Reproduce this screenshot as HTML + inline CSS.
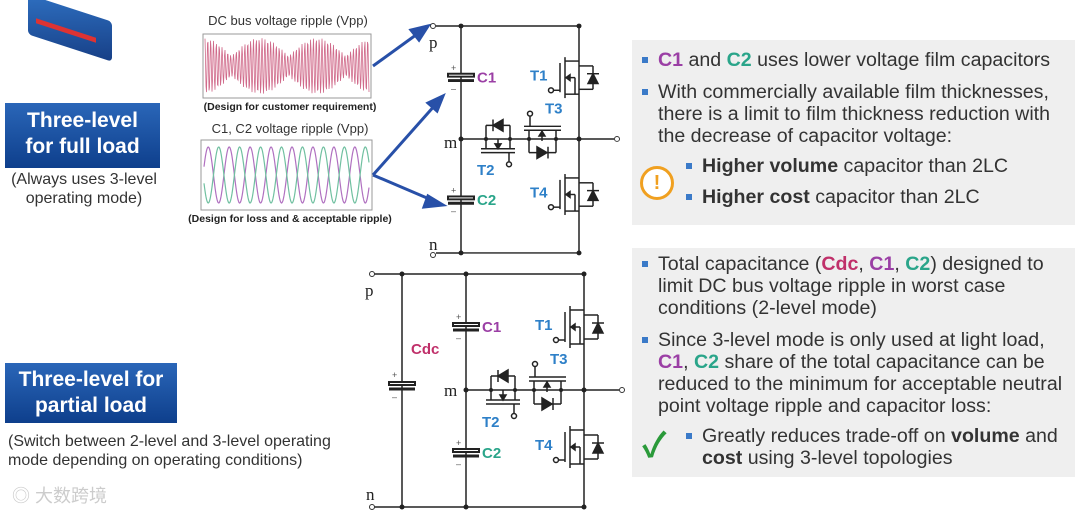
<!DOCTYPE html>
<html><head><meta charset="utf-8"><style>
body{margin:0;width:1080px;height:513px;overflow:hidden;background:#fff;font-family:"Liberation Sans","Noto Sans CJK SC",sans-serif;position:relative}
.a{position:absolute}
.blue{background:linear-gradient(180deg,#2a66b8,#0e3f8c);color:#fff;font-weight:bold;font-size:21px;text-align:center;line-height:26px}
.panel{background:#efefef;position:absolute;left:632px;width:443px}
.panel ul{margin:0;padding:0 6px 0 0;list-style:none}
.panel li{position:relative;padding-left:26px;font-size:19.6px;color:#333;line-height:22px}
.panel li:before{content:"";position:absolute;left:10px;top:8px;width:6px;height:6px;background:#3a7ac8}
.sub li{padding-left:70px}.sub li:before{left:54px}
.m{color:#9b3fa5;font-weight:bold}.g{color:#2aa58a;font-weight:bold}.r{color:#c0306a;font-weight:bold}
</style></head><body>
<div class="a" style="left:28px;top:8px;width:84px;height:40px;background:linear-gradient(160deg,#2e6fc0,#173f86);transform:skewY(18deg);border-radius:4px"></div>
<div class="a" style="left:36px;top:28px;width:60px;height:5px;background:#d33;transform:skewY(18deg)"></div>
<div class="a blue" style="left:5px;top:103px;width:155px;height:60px;padding-top:5px">Three-level<br>for full load</div>
<div class="a" style="left:4px;top:170px;width:160px;text-align:center;font-size:16px;color:#333;line-height:19px">(Always uses 3-level<br>operating mode)</div>
<div class="a blue" style="left:5px;top:363px;width:172px;height:56px;padding-top:4px">Three-level for<br>partial load</div>
<div class="a" style="left:8px;top:432px;font-size:16px;color:#333;line-height:19px">(Switch between 2-level and 3-level operating<br>mode depending on operating conditions)</div>
<div class="a" style="left:12px;top:482px;font-size:18px;color:#ccc">◎ 大数跨境</div>

<div class="a" style="left:203px;top:13px;width:170px;text-align:center;font-size:13px;color:#333">DC bus voltage ripple (Vpp)</div>
<div class="a" style="left:190px;top:101px;width:200px;text-align:center;font-size:10.5px;font-weight:bold;color:#222">(Design for customer requirement)</div>
<div class="a" style="left:190px;top:121px;width:200px;text-align:center;font-size:13px;color:#333">C1, C2 voltage ripple (Vpp)</div>
<div class="a" style="left:165px;top:213px;width:250px;text-align:center;font-size:10.5px;font-weight:bold;color:#222">(Design for loss and &amp; acceptable ripple)</div>

<svg class="a" style="left:0;top:0" width="1080" height="513">
<rect x="203" y="34" width="168" height="64" fill="#fff" stroke="#999"/>
<rect x="201" y="140" width="171" height="70" fill="#fff" stroke="#999"/>
<path id="w1" fill="none" stroke="#d06a8a" stroke-width="0.8"/>
<path id="w2" fill="none" stroke="#b070c0" stroke-width="1.2"/>
<path id="w3" fill="none" stroke="#70c0a0" stroke-width="1.2"/>
<g stroke="#2850a8" stroke-width="3" fill="#2850a8">
<line x1="373" y1="66" x2="420" y2="32"/><polygon points="428,26 411,30 419,40"/>
<line x1="373" y1="175" x2="436" y2="104"/><polygon points="443,96 428,103 437,111"/>
<line x1="373" y1="175" x2="434" y2="201"/><polygon points="443,205 428,196 424,207"/>
</g>
<defs>
<g id="fet" stroke="#222" stroke-width="1.5" fill="none">
<line x1="0" y1="0" x2="-14" y2="0"/><line x1="0" y1="34" x2="-14" y2="34"/>
<line x1="-14" y1="-4" x2="-14" y2="38"/>
<line x1="-19" y1="2" x2="-19" y2="32"/>
<line x1="-14" y1="17" x2="-4" y2="17"/><line x1="-4" y1="17" x2="-4" y2="34"/>
<polygon points="-13,17 -9,14 -9,20" fill="#222"/>
<line x1="-19" y1="30" x2="-26" y2="30"/><circle cx="-28" cy="30" r="2.5" fill="#fff"/>
<line x1="0" y1="5" x2="14" y2="5"/><line x1="14" y1="5" x2="14" y2="29"/><line x1="14" y1="29" x2="0" y2="29"/>
<polygon points="9,23 19,23 14,13" fill="#222"/><line x1="8" y1="13" x2="20" y2="13"/>
</g>
<g id="cap" stroke="#222" stroke-width="2">
<rect x="-13" y="-3" width="26" height="3" fill="#fff"/><line x1="-13" y1="4" x2="13" y2="4" stroke-width="3"/>
</g>
<g id="circ">
<g stroke="#222" stroke-width="1.5" fill="none">
<line x1="466" y1="274" x2="584" y2="274"/><line x1="466" y1="507" x2="584" y2="507"/>
<line x1="466" y1="274" x2="466" y2="507"/><line x1="584" y1="274" x2="584" y2="507"/>
<line x1="466" y1="390" x2="619" y2="390"/>
</g>
<circle cx="622" cy="390" r="2.5" fill="#fff" stroke="#333"/>
<g fill="#222"><circle cx="466" cy="274" r="2.5"/><circle cx="466" cy="507" r="2.5"/><circle cx="466" cy="390" r="2.5"/><circle cx="584" cy="390" r="2.5"/><circle cx="584" cy="274" r="2.5"/><circle cx="584" cy="507" r="2.5"/></g>
<use href="#cap" x="466" y="326"/><use href="#cap" x="466" y="452"/>
<text x="456" y="320" font-size="9" fill="#555">+</text><text x="456" y="341" font-size="9" fill="#555">–</text>
<text x="456" y="446" font-size="9" fill="#555">+</text><text x="456" y="467" font-size="9" fill="#555">–</text>
<use href="#fet" x="584" y="310"/><use href="#fet" x="584" y="430"/>
<g stroke="#222" stroke-width="1.5" fill="none">
<line x1="491" y1="390" x2="491" y2="376"/><line x1="491" y1="376" x2="515" y2="376"/><line x1="515" y1="376" x2="515" y2="390"/>
<polygon points="498,376 508,370 508,382" fill="#222"/><line x1="498" y1="370" x2="498" y2="382"/>
<line x1="491" y1="390" x2="491" y2="400"/><line x1="515" y1="390" x2="515" y2="400"/>
<line x1="486" y1="400" x2="520" y2="400"/><line x1="486" y1="404" x2="520" y2="404"/>
<line x1="503" y1="390" x2="503" y2="400"/><polygon points="503,400 500,395 506,395" fill="#222"/>
<line x1="514" y1="404" x2="514" y2="413"/><circle cx="514" cy="416" r="2.5" fill="#fff"/>
<line x1="534" y1="390" x2="534" y2="381"/><line x1="561" y1="390" x2="561" y2="381"/>
<line x1="529" y1="381" x2="566" y2="381"/><line x1="529" y1="377" x2="566" y2="377"/>
<line x1="547" y1="381" x2="547" y2="392"/><polygon points="547,382 544,387 550,387" fill="#222"/>
<line x1="535" y1="377" x2="535" y2="367"/><circle cx="535" cy="364" r="2.5" fill="#fff"/>
<line x1="534" y1="390" x2="534" y2="404"/><line x1="534" y1="404" x2="561" y2="404"/><line x1="561" y1="404" x2="561" y2="390"/>
<polygon points="552,404 542,398 542,410" fill="#222"/><line x1="553" y1="398" x2="553" y2="410"/>
</g>
<g fill="#222"><circle cx="491" cy="390" r="2"/><circle cx="515" cy="390" r="2"/><circle cx="534" cy="390" r="2"/><circle cx="561" cy="390" r="2"/></g>
<g font-family="Liberation Sans" font-weight="bold" font-size="15">
<text x="482" y="332" fill="#9b3fa5">C1</text><text x="482" y="458" fill="#2aa58a">C2</text>
<text x="535" y="330" fill="#2e80c8">T1</text><text x="535" y="450" fill="#2e80c8">T4</text>
<text x="482" y="427" fill="#2e80c8">T2</text><text x="550" y="364" fill="#2e80c8">T3</text>
</g>
</g>
</defs>
<use href="#circ"/>
<g stroke="#222" stroke-width="1.5"><line x1="372" y1="274" x2="466" y2="274"/><line x1="372" y1="507" x2="466" y2="507"/><line x1="402" y1="274" x2="402" y2="507"/></g>
<circle cx="372" cy="274" r="2.5" fill="#fff" stroke="#333"/><circle cx="372" cy="507" r="2.5" fill="#fff" stroke="#333"/>
<g fill="#222"><circle cx="402" cy="274" r="2.5"/><circle cx="402" cy="507" r="2.5"/></g>
<use href="#cap" x="402" y="385"/>
<text x="392" y="378" font-size="9" fill="#555">+</text><text x="392" y="400" font-size="9" fill="#555">–</text>
<text x="411" y="354" font-family="Liberation Sans" font-weight="bold" font-size="15" fill="#c0306a">Cdc</text>
<g font-family="Liberation Serif" font-size="17" fill="#222">
<text x="365" y="296">p</text><text x="444" y="396">m</text><text x="366" y="500">n</text>
</g>
<g transform="translate(-5,26) scale(1,0.974) translate(0,-274)"><use href="#circ"/></g>
<g stroke="#222" stroke-width="1.5"><line x1="436" y1="26" x2="461" y2="26"/><line x1="436" y1="253" x2="461" y2="253"/></g>
<circle cx="433" cy="26" r="2.5" fill="#fff" stroke="#333"/><circle cx="433" cy="255" r="2.5" fill="#fff" stroke="#333"/>
<g font-family="Liberation Serif" font-size="17" fill="#222">
<text x="429" y="48">p</text><text x="444" y="148">m</text><text x="429" y="250">n</text>
</g>
</svg>

<div class="panel" style="top:40px;height:176px;padding-top:9px">
<ul><li><span class="m">C1</span> and <span class="g">C2</span> uses lower voltage film capacitors</li>
<li style="margin-top:10px">With commercially available film thicknesses, there is a limit to film thickness reduction with the decrease of capacitor voltage:</li></ul>
<ul class="sub" style="margin-top:8px"><li><b>Higher volume</b> capacitor than 2LC</li><li style="margin-top:9px"><b>Higher cost</b> capacitor than 2LC</li></ul>
<div class="a" style="left:8px;top:126px;width:28px;height:28px;border:3px solid #f0a020;border-radius:50%;color:#f0a020;font-weight:bold;font-size:20px;text-align:center;line-height:28px;background:#fff">!</div>
</div>
<div class="panel" style="top:248px;height:224px;padding-top:5px">
<ul><li>Total capacitance (<span class="r">Cdc</span>, <span class="m">C1</span>, <span class="g">C2</span>) designed to limit DC bus voltage ripple in worst case conditions (2-level mode)</li>
<li style="margin-top:10px">Since 3-level mode is only used at light load, <span class="m">C1</span>, <span class="g">C2</span> share of the total capacitance can be reduced to the minimum for acceptable neutral point voltage ripple and capacitor loss:</li></ul>
<ul class="sub" style="margin-top:8px"><li style="padding-left:70px">Greatly reduces trade-off on <b>volume</b> and <b>cost</b> using 3-level topologies</li></ul>
<div class="a" style="left:10px;top:170px;font-size:34px;color:#2a9a3a;font-weight:bold">✓</div>
</div>
<script>
function p(f,x0,x1,y){let d="";for(let x=x0;x<=x1;x+=0.5){d+=(d?"L":"M")+x.toFixed(1)+","+(y+f(x)).toFixed(1);}return d;}
document.getElementById("w1").setAttribute("d",p(x=>Math.sin(x*2.2)*(10+18*Math.abs(Math.cos((x-203)*0.055))),205,369,66));
document.getElementById("w2").setAttribute("d",p(x=>-28*Math.sin((x-203)*0.3),204,369,175));
document.getElementById("w3").setAttribute("d",p(x=>28*Math.sin((x-203)*0.3),204,369,175));
</script>
</body></html>
